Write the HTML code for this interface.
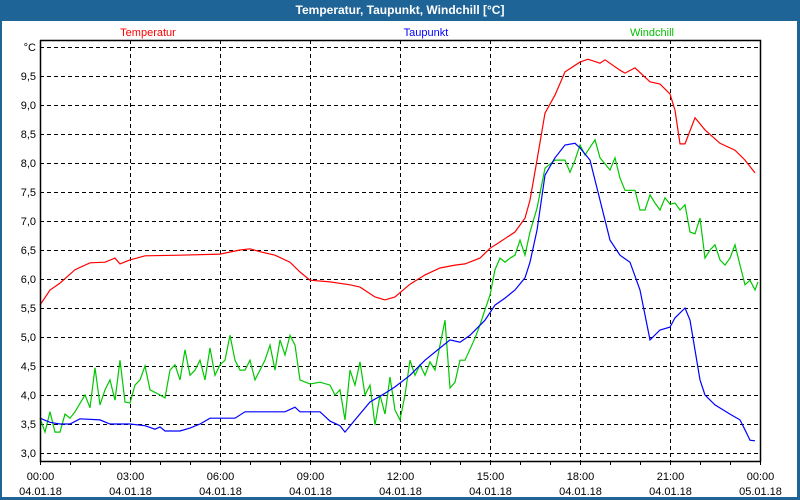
<!DOCTYPE html>
<html><head><meta charset="utf-8"><style>
html,body{margin:0;padding:0;background:#1f6496;}
svg{display:block;font-family:"Liberation Sans",sans-serif;}
</style></head><body>
<svg id="chart" width="800" height="500" viewBox="0 0 800 500">
<rect x="0" y="0" width="800" height="500" fill="#1f6496"/>
<text x="400" y="14" text-anchor="middle" font-size="12" font-weight="bold" fill="#fff">Temperatur, Taupunkt, Windchill [°C]</text>
<rect x="2" y="21" width="795" height="476" fill="#fff"/>
<text x="148" y="36" text-anchor="middle" font-size="11" fill="#ff0000">Temperatur</text>
<text x="426" y="36" text-anchor="middle" font-size="11" fill="#0000ff">Taupunkt</text>
<text x="652" y="36" text-anchor="middle" font-size="11" fill="#00c000">Windchill</text>
<g id="grid"></g><g id="series"></g><g id="axes"></g>
</svg>
<script>
const yTicks=[3.0,3.5,4.0,4.5,5.0,5.5,6.0,6.5,7.0,7.5,8.0,8.5,9.0,9.5];
const yTickLabels=["3,0","3,5","4,0","4,5","5,0","5,5","6,0","6,5","7,0","7,5","8,0","8,5","9,0","9,5"];
const xTickHours=[0,3,6,9,12,15,18,21,24];
const xTickTimes=["00:00","03:00","06:00","09:00","12:00","15:00","18:00","21:00","00:00"];
const xTickDates=["04.01.18","04.01.18","04.01.18","04.01.18","04.01.18","04.01.18","04.01.18","04.01.18","05.01.18"];
const tempMinutes=[0,20,40,70,100,130,150,160,180,210,280,360,400,420,440,470,500,520,540,580,620,640,670,690,710,740,770,800,830,850,880,900,920,950,970,980,994,1010,1030,1050,1080,1096,1120,1130,1160,1170,1190,1210,1220,1240,1260,1270,1280,1290,1310,1330,1360,1390,1410,1430];
const tempValues=[5.55,5.81,5.93,6.16,6.28,6.29,6.36,6.26,6.33,6.40,6.41,6.43,6.50,6.52,6.47,6.41,6.29,6.12,5.98,5.95,5.90,5.86,5.69,5.64,5.69,5.91,6.07,6.19,6.24,6.26,6.36,6.53,6.64,6.81,7.05,7.36,8.05,8.86,9.17,9.57,9.74,9.79,9.72,9.78,9.60,9.55,9.64,9.48,9.40,9.36,9.19,8.91,8.33,8.33,8.78,8.57,8.34,8.22,8.05,7.83];
const dewMinutes=[0,20,40,60,80,120,140,180,210,230,240,250,280,300,320,340,390,410,490,510,520,560,580,600,610,630,660,690,710,740,770,800,820,840,860,890,910,930,950,970,980,994,1010,1030,1050,1070,1080,1100,1120,1140,1160,1180,1200,1220,1240,1260,1270,1290,1300,1320,1330,1350,1380,1400,1410,1420,1430];
const dewValues=[3.60,3.53,3.50,3.50,3.59,3.57,3.50,3.50,3.47,3.41,3.45,3.38,3.38,3.43,3.50,3.60,3.60,3.71,3.71,3.79,3.71,3.71,3.55,3.47,3.36,3.57,3.88,4.03,4.14,4.34,4.60,4.81,4.95,4.91,5.03,5.29,5.55,5.67,5.81,6.02,6.29,6.84,7.79,8.09,8.31,8.34,8.26,8.05,7.36,6.67,6.41,6.29,5.81,4.95,5.12,5.17,5.33,5.50,5.29,4.26,4.00,3.83,3.67,3.57,3.40,3.22,3.21];
const windMinutes=[0,10,20,30,40,50,60,70,90,100,110,120,130,140,150,160,170,180,190,200,210,220,240,250,260,270,280,290,300,310,320,330,340,350,360,370,380,390,400,410,420,430,440,450,460,470,480,490,500,510,520,540,560,580,590,600,610,620,630,640,650,660,670,680,690,700,710,720,730,740,750,760,770,780,790,800,810,820,830,840,850,870,880,890,900,910,920,930,940,950,960,970,980,994,1010,1030,1050,1060,1070,1080,1090,1110,1120,1140,1150,1160,1170,1190,1200,1210,1220,1230,1240,1250,1260,1270,1280,1290,1300,1310,1320,1330,1340,1350,1360,1370,1380,1390,1400,1410,1420,1430,1436];
const windValues=[3.60,3.36,3.71,3.36,3.36,3.67,3.60,3.71,4.00,3.78,4.47,3.83,4.09,4.26,3.91,4.60,3.88,3.86,4.17,4.26,4.50,4.09,4.00,3.95,4.43,4.52,4.26,4.78,4.34,4.43,4.60,4.26,4.81,4.34,4.52,4.60,5.03,4.60,4.43,4.43,4.60,4.26,4.43,4.60,4.86,4.43,4.95,4.69,5.03,4.86,4.26,4.19,4.22,4.17,4.00,4.09,3.57,4.43,4.17,4.57,4.00,4.17,3.48,4.00,3.67,4.31,3.74,3.57,4.00,4.60,4.34,4.52,4.34,4.57,4.43,4.86,5.29,4.12,4.22,4.60,4.60,4.98,5.21,5.47,5.72,6.16,6.36,6.29,6.36,6.41,6.67,6.41,6.81,7.22,7.91,8.05,8.05,7.84,8.05,8.31,8.14,8.40,8.09,7.88,8.09,7.74,7.53,7.53,7.19,7.19,7.45,7.31,7.19,7.40,7.29,7.31,7.19,7.28,6.81,6.78,7.05,6.36,6.50,6.59,6.33,6.24,6.36,6.59,6.24,5.90,5.98,5.81,5.95];

const NS="http://www.w3.org/2000/svg";
const L=40,R=760,T=40,B=461;
const xScale=m=>L+(m/1440)*(R-L);
const yScale=v=>453-(v-3)*58;
function mk(tag,attrs,parent){const e=document.createElementNS(NS,tag);for(const k in attrs)e.setAttribute(k,attrs[k]);parent.appendChild(e);return e;}
const grid=document.getElementById('grid'),axes=document.getElementById('axes'),series=document.getElementById('series');
const gridVals=yTicks.concat([10.0]);
gridVals.forEach(v=>{const y=Math.round(yScale(v))+0.5;
 const ln=mk('line',{x1:L,x2:R,y1:y,y2:y,stroke:'#000','stroke-dasharray':'4,3','stroke-width':1},grid);
 
 });
yTicks.forEach((v,i)=>{const t=mk('text',{x:36,y:yScale(v)+4,'text-anchor':'end','font-size':11,fill:'#000'},axes);t.textContent=yTickLabels[i];
 
 });
const unit=mk('text',{x:36,y:yScale(10)+4,'text-anchor':'end','font-size':11,fill:'#000'},axes);unit.textContent='°C';


xTickHours.forEach((h,i)=>{const x=Math.round(xScale(h*60))+0.5;
 if(h>0&&h<24){const g=mk('line',{x1:x,x2:x,y1:T,y2:B,stroke:'#000','stroke-dasharray':'4,3'},grid);
  
  }
 const t1=mk('text',{x:x,y:480,'text-anchor':'middle','font-size':11,fill:'#000'},axes);t1.textContent=xTickTimes[i];
 
 
 const t2=mk('text',{x:x,y:495,'text-anchor':'middle','font-size':11,fill:'#000'},axes);t2.textContent=xTickDates[i];
 
 });
for(let h=0;h<=24;h++){const x=Math.round(xScale(h*60))+0.5;
 const tk=mk('line',{x1:x,x2:x,y1:B,y2:B+4,stroke:'#000'},axes);
 
 }
const frame=mk('path',{d:`M${L+0.5},${T} V${B+0.5} H${R+0.5} V${T+0.5} H${L}`,fill:'none',stroke:'#000','stroke-width':1.5},axes);


function line(ms,vs,color,name){const pts=ms.map((m,i)=>xScale(m).toFixed(1)+','+yScale(vs[i]).toFixed(1)).join(' ');
 const p=mk('polyline',{points:pts,fill:'none',stroke:color,'stroke-width':1.2},series);
 
 }
line(windMinutes,windValues,'#00c800','windchill-line');
line(tempMinutes,tempValues,'#ff0000','temperatur-line');
line(dewMinutes,dewValues,'#0000ff','taupunkt-line');
</script>
</body></html>
